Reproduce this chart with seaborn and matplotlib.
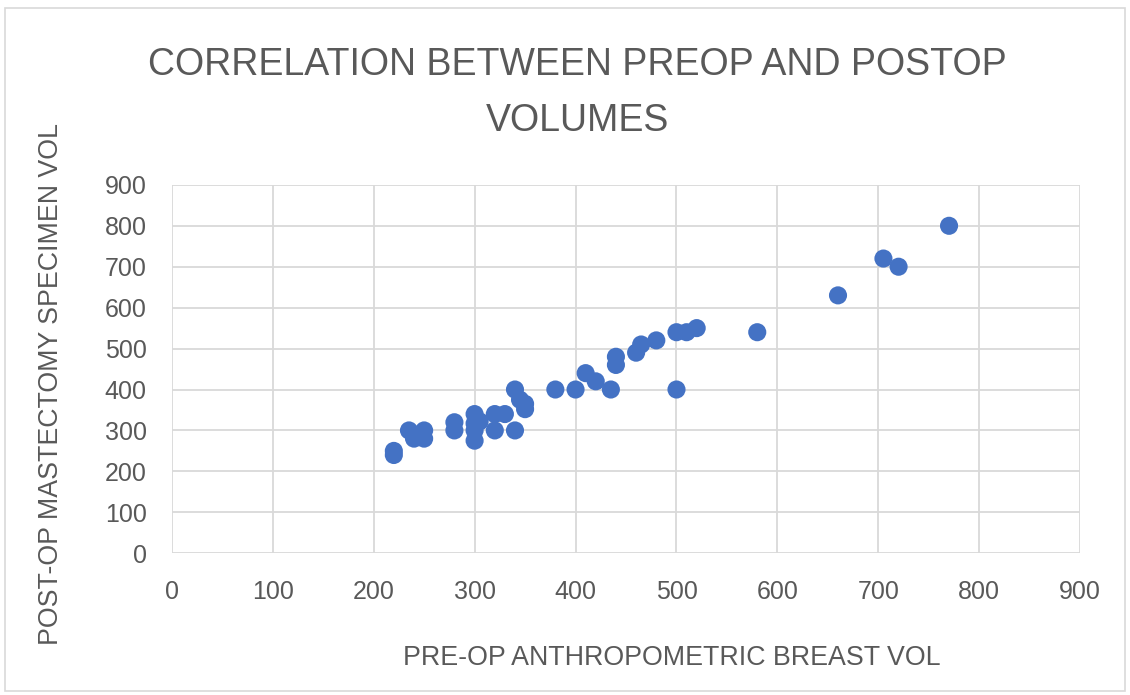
import pandas as pd
import matplotlib.pyplot as plt
import seaborn as sns
from matplotlib.patches import Rectangle

# pre-op anthropometric vs post-op specimen volumes
pre_op = [220, 220, 235, 240, 250, 250, 280, 280, 300, 300, 300, 300, 305,
          320, 320, 330, 340, 340, 345, 350, 350, 380, 400, 410, 420, 435,
          440, 440, 460, 465, 480, 500, 500, 510, 520, 580, 660, 705, 720, 770]
post_op = [240, 250, 300, 280, 300, 280, 320, 300, 340, 317, 300, 275, 322,
           340, 300, 340, 400, 300, 375, 365, 352, 400, 400, 440, 420, 400,
           480, 460, 490, 510, 520, 540, 400, 540, 550, 540, 630, 720, 700, 800]
ticks = [0, 100, 200, 300, 400, 500, 600, 700, 800, 900]

df = pd.DataFrame({'pre': pre_op, 'post': post_op})

sns.set_style('white')
plt.rcParams['font.family'] = ['Liberation Sans', 'DejaVu Sans']
grey = '#595959'

fig = plt.figure(figsize=(11.3, 6.95), dpi=100)
ax = fig.add_axes([0.152, 0.204, 0.804, 0.530])

sns.scatterplot(data=df, x='pre', y='post', ax=ax, color='#4472C4',
                s=170, edgecolor='none', zorder=3)

ax.set_xlim(0, 900)
ax.set_ylim(0, 900)
ax.set_xticks(ticks)
ax.set_yticks(ticks)
ax.grid(True, color='#d9d9d9', linewidth=1.3)
ax.set_axisbelow(True)
for s in ax.spines.values():
    s.set_visible(False)
ax.tick_params(length=0, labelsize=18, labelcolor=grey)
ax.tick_params(axis='x', pad=19)
ax.tick_params(axis='y', pad=18)

ax.set_xlabel('PRE-OP ANTHROPOMETRIC BREAST VOL', fontsize=19.3, color=grey)
ax.set_ylabel('POST-OP MASTECTOMY SPECIMEN VOL', fontsize=19.3, color=grey)
ax.xaxis.set_label_coords(0.55, -0.25)
ax.yaxis.set_label_coords(-0.119, 0.46)

fig.text(0.511, 0.866, 'CORRELATION BETWEEN PREOP AND POSTOP\nVOLUMES',
         ha='center', va='center', fontsize=27, color=grey, linespacing=1.7)

fig.patches.append(Rectangle((0.004, 0.006), 0.992, 0.982, transform=fig.transFigure,
                             fill=False, edgecolor='#d9d9d9', linewidth=1.2))

fig.savefig('out.png', dpi=100)
